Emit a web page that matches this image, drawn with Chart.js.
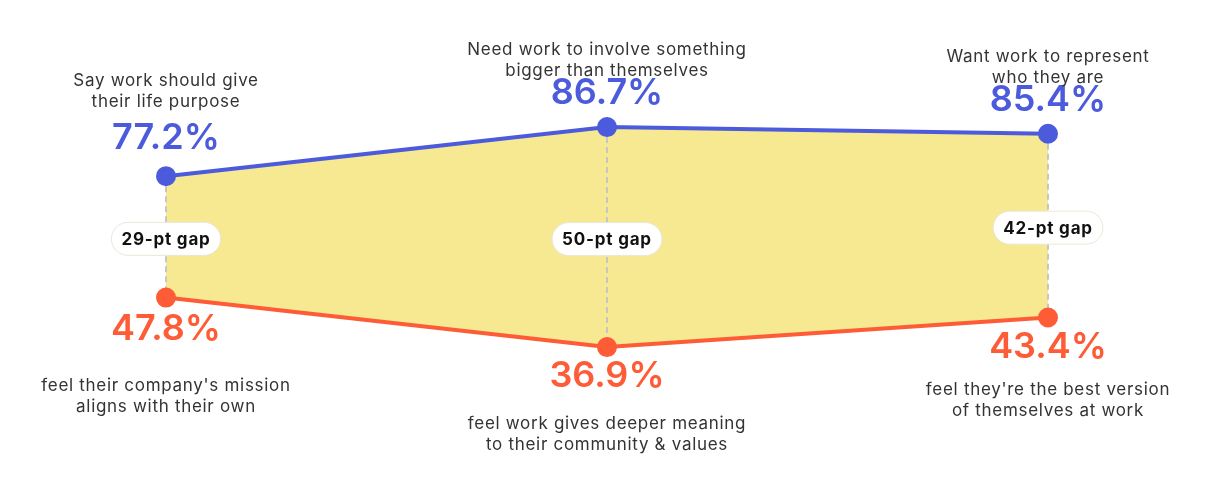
<!DOCTYPE html>
<html>
<head>
<meta charset="utf-8">
<script src="https://cdn.jsdelivr.net/npm/chart.js@4"></script>
<style>
  html, body { margin: 0; padding: 0; background: #fff; }
  #wrap { width: 1210px; height: 482px; position: relative; }
</style>
</head>
<body>
<div id="wrap"><canvas id="gapChart"></canvas></div>
<script>
// data
const categories = ['purpose', 'bigger', 'identity'];
const idealValues = [77.2, 86.7, 85.4];
const realityValues = [47.8, 36.9, 43.4];
const idealLabels = [
    ['Say work should give', 'their life purpose'],
    ['Need work to involve something', 'bigger than themselves'],
    ['Want work to represent', 'who they are']
];
const realityLabels = [
    ["feel their company's mission", 'aligns with their own'],
    ['feel work gives deeper meaning', 'to their community & values'],
    ["feel they're the best version", 'of themselves at work']
];

const BLUE = '#4b5bdc';
const ORANGE = '#fd5c36';
const FILL = '#f7e991';
const TEXT = '#333333';

// per-column text offsets from the dots (px)
const topValueOffset = [-27, -23, -23];
const topDescOffset = [-69, -51, -51];
const bottomValueOffset = [42, 40, 40];
const bottomDescOffset = [93, 82, 77];

function fmtPct(v) {
    return v.toFixed(1) + '%';
}

const gapLabels = {
    id: 'gapLabels',
    beforeDatasetsDraw(chart) {
        const ctx = chart.ctx;
        const top = chart.getDatasetMeta(0).data;
        const bot = chart.getDatasetMeta(1).data;
        ctx.save();
        ctx.strokeStyle = '#c6c6c6';
        ctx.lineWidth = 2;
        ctx.setLineDash([6, 4]);
        top.forEach((p, i) => {
            ctx.beginPath();
            ctx.moveTo(p.x, p.y);
            ctx.lineTo(bot[i].x, bot[i].y);
            ctx.stroke();
        });
        ctx.restore();
    },
    afterDatasetsDraw(chart) {
        const ctx = chart.ctx;
        const top = chart.getDatasetMeta(0).data;
        const bot = chart.getDatasetMeta(1).data;
        ctx.save();
        ctx.textAlign = 'center';
        ctx.textBaseline = 'alphabetic';

        top.forEach((p, i) => {
            const b = bot[i];

            // gap pill
            const gap = Math.round(idealValues[i] - realityValues[i]);
            const txt = gap + '-pt gap';
            ctx.font = '700 17px Inter';
            ctx.letterSpacing = '0.8px';
            const w = ctx.measureText(txt).width + 20;
            const h = 33;
            const cx = p.x;
            const cy = (p.y + b.y) / 2 + 2;
            ctx.beginPath();
            ctx.roundRect(cx - w / 2, cy - h / 2, w, h, h / 2);
            ctx.fillStyle = '#ffffff';
            ctx.fill();
            ctx.strokeStyle = '#ebe6d8';
            ctx.lineWidth = 1;
            ctx.stroke();
            ctx.fillStyle = '#111111';
            ctx.textBaseline = 'middle';
            ctx.fillText(txt, cx, cy + 1);
            ctx.textBaseline = 'alphabetic';

            // values
            ctx.font = '600 36px Inter';
            ctx.letterSpacing = '0px';
            ctx.fillStyle = BLUE;
            ctx.fillText(fmtPct(idealValues[i]), p.x, p.y + topValueOffset[i]);
            ctx.fillStyle = ORANGE;
            ctx.fillText(fmtPct(realityValues[i]), b.x, b.y + bottomValueOffset[i]);

            // descriptions
            ctx.font = '400 17px Inter';
            ctx.letterSpacing = '0.7px';
            ctx.fillStyle = TEXT;
            const tl = idealLabels[i];
            ctx.fillText(tl[0], p.x, p.y + topDescOffset[i] - 21);
            ctx.fillText(tl[1], p.x, p.y + topDescOffset[i]);
            const bl = realityLabels[i];
            ctx.fillText(bl[0], b.x, b.y + bottomDescOffset[i]);
            ctx.fillText(bl[1], b.x, b.y + bottomDescOffset[i] + 21);
        });
        ctx.restore();
    }
};

const ctx = document.getElementById('gapChart').getContext('2d');
const chart = new Chart(ctx, {
    type: 'line',
    data: {
        labels: categories,
        datasets: [{
            label: 'Ideal',
            data: idealValues,
            yAxisID: 'y',
            borderColor: BLUE,
            backgroundColor: FILL,
            pointBackgroundColor: BLUE,
            pointBorderColor: BLUE,
            borderWidth: 4,
            pointRadius: 8,
            pointHoverRadius: 8,
            tension: 0,
            fill: '+1',
            clip: false
        }, {
            label: 'Reality',
            data: realityValues,
            yAxisID: 'y2',
            borderColor: ORANGE,
            backgroundColor: ORANGE,
            pointBackgroundColor: ORANGE,
            pointBorderColor: ORANGE,
            borderWidth: 4,
            pointRadius: 8,
            pointHoverRadius: 8,
            tension: 0,
            fill: false,
            clip: false
        }]
    },
    options: {
        responsive: true,
        maintainAspectRatio: false,
        animation: false,
        layout: { autoPadding: false, padding: { left: 166, right: 162, top: 0, bottom: 0 } },
        scales: {
            x: { type: 'category', display: false, offset: false },
            y: { display: false, min: 18, max: 111.3 },
            y2: { display: false, min: 7.2, max: 113.3 }
        },
        plugins: {
            legend: { display: false },
            tooltip: { enabled: false },
            filler: { drawTime: 'beforeDatasetsDraw' }
        }
    },
    plugins: [gapLabels]
});
</script>
</body>
</html>
